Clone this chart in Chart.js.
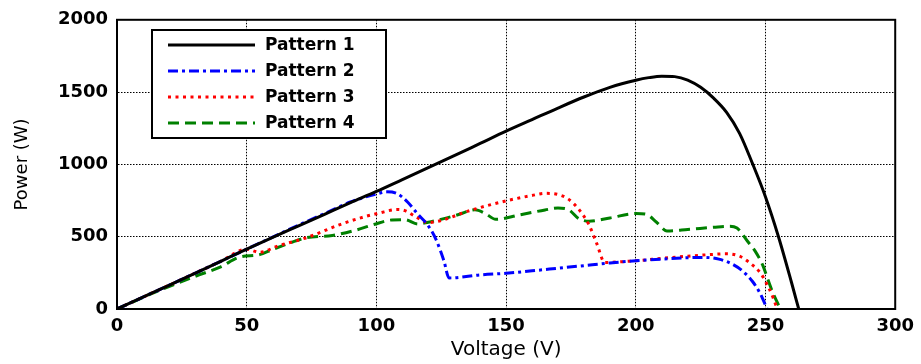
<!DOCTYPE html>
<html>
<head>
<meta charset="utf-8">
<script src="https://cdn.jsdelivr.net/npm/chart.js@4/dist/chart.umd.min.js"></script>
<style>
  html, body { margin: 0; padding: 0; background: #fff; }
  #wrap { position: relative; width: 921px; height: 364px; }
</style>
</head>
<body>
<div id="wrap"><canvas id="c" width="921" height="364"></canvas></div>
<script>
// ---- Data ----
const seriesNames = ['Pattern 1', 'Pattern 2', 'Pattern 3', 'Pattern 4'];

const voltage1 = [0,10,20,30,40,50,60,70,80,90,100,110,120,130,140,150,160,170,180,190,200,205,210,215,220,225,230,235,240,245,250,255,260,262.8];
const power1   = [0,82,164,247,330,414,495,575,655,735,813,895,977,1060,1145,1230,1310,1390,1466,1533,1582,1600,1610,1607,1583,1533,1458,1360,1215,1005,775,500,185,0];

const voltage2 = [0,10,20,30,40,50,60,70,80,90,100,104,108,112,116,120,123,126,128,140,150,160,170,180,190,200,210,220,226,232,237,241,245,248,250.6];
const power2   = [0,82,164,247,330,414,497,580,660,740,795,810,798,740,655,575,480,335,215,236,247,264,282,300,318,334,345,355,357,345,312,265,190,105,0];

const voltage3 = [0,10,20,30,40,50,55,62,73,86,96,101,108,111,115,120,125,135,150,160,165,170,174,178,182,185,188,200,210,220,230,235,240,244,248,251,253,254.5];
const power3   = [0,82,164,247,330,414,392,436,493,584,641,663,688,680,640,598,612,675,748,785,800,792,760,690,580,450,322,334,350,365,378,382,365,318,250,155,75,0];

const voltage4 = [0,10,20,30,40,47,55,60,67,73,83,92,99,106,111,116,120,126,132,138,142,146,155,165,170,174,178,182,190,200,204,208,212,220,230,236,239,243,246,249,251,253,255.8];
const power4   = [0,80,155,225,292,357,376,412,459,493,509,545,584,616,618,588,600,625,655,686,660,620,650,685,698,688,625,607,630,660,655,600,540,550,565,572,560,470,400,300,200,105,0];

const xTicks = [0, 50, 100, 150, 200, 250, 300];
const yTicks = [0, 500, 1000, 1500, 2000];

function toPoints(xs, ys) { return xs.map((x, i) => ({ x: x, y: ys[i] })); }

// ---- Plugins ----
const boxPlugin = {
  id: 'box',
  afterDatasetsDraw(chart) {
    const { ctx, chartArea: a } = chart;
    ctx.save();
    ctx.strokeStyle = '#000';
    ctx.lineWidth = 2;
    ctx.setLineDash([]);
    ctx.strokeRect(a.left, a.top, a.right - a.left, a.bottom - a.top);
    ctx.restore();
  }
};

const legendPlugin = {
  id: 'innerLegend',
  afterDraw(chart) {
    const { ctx } = chart;
    const bx = 152, by = 30, bw = 234, bh = 108;
    ctx.save();
    ctx.fillStyle = '#fff';
    ctx.fillRect(bx, by, bw, bh);
    ctx.strokeStyle = '#000';
    ctx.lineWidth = 2;
    ctx.setLineDash([]);
    ctx.strokeRect(bx, by, bw, bh);
    const rowY = [45, 71, 97, 123];
    chart.data.datasets.forEach((ds, i) => {
      const y = rowY[i];
      ctx.beginPath();
      ctx.strokeStyle = ds.borderColor;
      ctx.lineWidth = ds.borderWidth;
      ctx.setLineDash(ds.borderDash || []);
      ctx.moveTo(168, y);
      ctx.lineTo(255, y);
      ctx.stroke();
      ctx.setLineDash([]);
      ctx.fillStyle = '#000';
      ctx.font = 'bold 17px "DejaVu Sans"';
      ctx.textBaseline = 'middle';
      ctx.textAlign = 'left';
      ctx.fillText(ds.label, 265, y + 1);
    });
    ctx.restore();
  }
};

const tickFont = { family: '"DejaVu Sans"', size: 18, weight: 'bold' };

new Chart(document.getElementById('c'), {
  type: 'scatter',
  data: {
    datasets: [
      { label: seriesNames[0], data: toPoints(voltage1, power1), borderColor: '#000000', borderWidth: 3, borderDash: [] },
      { label: seriesNames[1], data: toPoints(voltage2, power2), borderColor: '#0000ff', borderWidth: 3, borderDash: [10, 4, 3, 4] },
      { label: seriesNames[2], data: toPoints(voltage3, power3), borderColor: '#ff0000', borderWidth: 3, borderDash: [3, 4.5] },
      { label: seriesNames[3], data: toPoints(voltage4, power4), borderColor: '#008000', borderWidth: 3, borderDash: [11, 6] }
    ].map(d => Object.assign(d, { showLine: true, pointRadius: 0, pointHoverRadius: 0, fill: false, cubicInterpolationMode: 'monotone', backgroundColor: d.borderColor }))
  },
  options: {
    responsive: false,
    animation: false,
    events: [],
    layout: { padding: { left: 0, right: 24, top: 17, bottom: 0 } },
    plugins: { legend: { display: false }, tooltip: { enabled: false } },
    scales: {
      x: {
        type: 'linear', min: 0, max: 300,
        afterBuildTicks: s => { s.ticks = xTicks.map(v => ({ value: v })); },
        afterFit: s => { s.height = 55; },
        ticks: { font: tickFont, color: '#000', padding: 7, maxRotation: 0, callback: v => String(v) },
        grid: { color: '#000', lineWidth: 1, drawTicks: false },
        border: { display: true, color: '#000', width: 2, dash: [1.5, 1.5] },
        title: { display: true, text: 'Voltage (V)', color: '#000', font: { family: '"DejaVu Sans"', size: 20 }, padding: { top: 0, bottom: 2 } }
      },
      y: {
        type: 'linear', min: 0, max: 2000,
        afterBuildTicks: s => { s.ticks = yTicks.map(v => ({ value: v })); },
        afterFit: s => { s.width = 117; },
        ticks: { font: tickFont, color: '#000', padding: 9, callback: v => String(v) },
        grid: { color: '#000', lineWidth: 1, drawTicks: false },
        border: { display: true, color: '#000', width: 2, dash: [1.5, 1.5] },
        title: { display: true, text: 'Power (W)', color: '#000', font: { family: '"DejaVu Sans"', size: 18 }, padding: { top: 12, bottom: 0 } }
      }
    }
  },
  plugins: [boxPlugin, legendPlugin]
});
</script>
</body>
</html>
